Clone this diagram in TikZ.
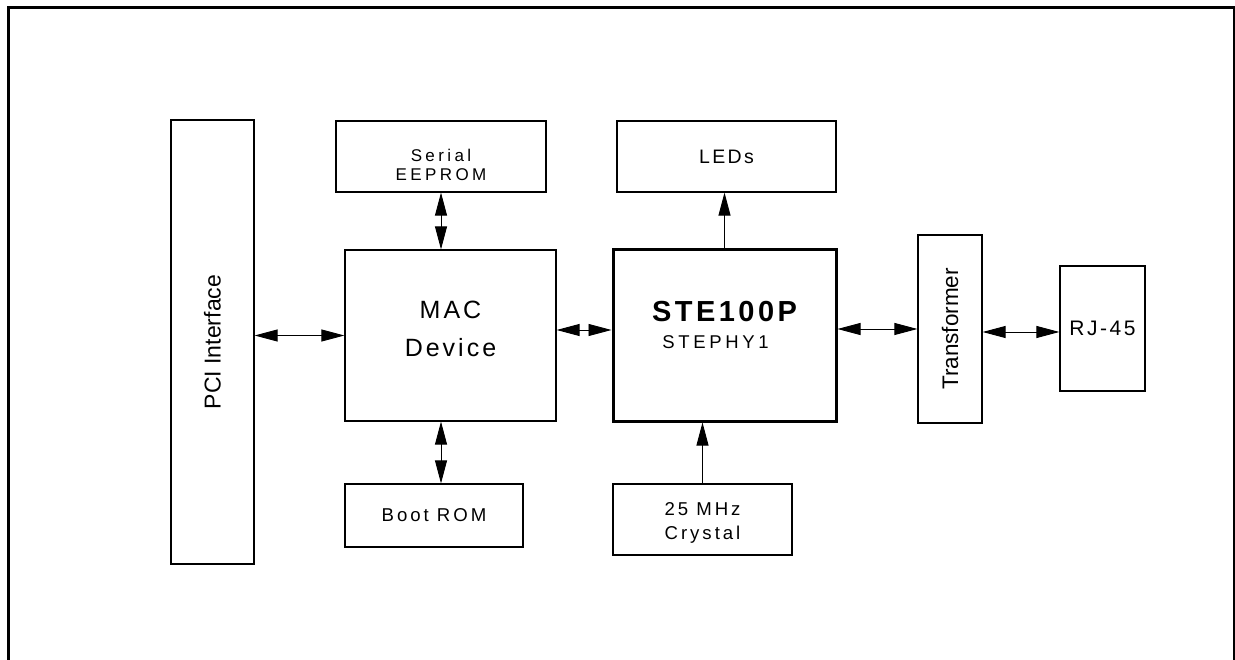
\documentclass[tikz,border=0pt]{standalone}
\usepackage{fontspec}
\usepackage{graphicx}
\setmainfont{Liberation Sans}
\newfontfamily\spaced{Liberation Sans}[LetterSpace=20]
\newfontfamily\spacedsm{Liberation Sans}[LetterSpace=16]
\newfontfamily\spacedmid{Liberation Sans}[LetterSpace=12]
\usetikzlibrary{arrows.meta}
\tikzset{
    box/.style={draw, line width=1.2pt, inner sep=0pt, align=center},
    chip/.style={draw, line width=3pt, inner sep=0pt, align=center},
    link/.style={line width=0.9pt},
    >={Triangle[length=23pt, width=12pt]}
}

\begin{document}
\begin{tikzpicture}[x=1pt, y=-1pt]
    \useasboundingbox (0,0) rectangle (1235,660);
    % frame
    \draw [line width=3pt] (8,660) -- (8,8) -- (1234,8) -- (1234,660);

    % blocks
    \node [box, minimum width=83pt, minimum height=444pt, font=\fontsize{23}{28}\selectfont] (pci) at (212.5,342) {\rotatebox{90}{PCI Interface}};
    \node [box, minimum width=210pt, minimum height=71pt,
           label={[align=center, yshift=-8pt, font=\fontsize{17}{19}\selectfont\spaced]center:Serial\\EEPROM}] (eeprom) at (441,156.5) {};
    \node [box, minimum width=211pt, minimum height=171pt,
           label={[align=center, yshift=7pt, font=\fontsize{25}{38}\selectfont\spacedmid]center:MAC\\Device}] (mac) at (450.5,335.5) {};
    \node [box, minimum width=178pt, minimum height=63pt, font=\fontsize{18.6}{22}\selectfont\spacedsm] (boot) at (434,515.5) {Boot ROM};
    \node [box, minimum width=219pt, minimum height=71pt, font=\fontsize{19.5}{22}\selectfont\spacedmid] (leds) at (726.5,156.5) {LEDs};
    \node [chip, minimum width=223pt, minimum height=171pt,
           label={[align=center, yshift=11pt, font=\fontsize{29}{27}\selectfont\spacedmid]center:\bfseries STE100P\\\hspace*{-18pt}{\fontsize{18.5}{27}\selectfont\spaced STEPHY1}}] (ste) at (724.5,335.5) {};
    \node [box, minimum width=179pt, minimum height=71pt,
           label={[align=center, yshift=-3pt, font=\fontsize{18.6}{24}\selectfont\spacedsm]center:25 MHz\\Crystal}] (xtal) at (702.5,519.5) {};
    \node [box, minimum width=64pt, minimum height=188pt, font=\fontsize{22.5}{27}\selectfont] (xfmr) at (950,329) {\rotatebox{90}{Transformer}};
    \node [box, minimum width=85pt, minimum height=125pt, font=\fontsize{21}{25}\selectfont\spacedmid] (rj) at (1102.5,328.5) {RJ-45};

    % links
    \draw [link, <->] (pci.east |- mac.west) -- (mac.west);
    \draw [link, <->] ([yshift=5.5pt]mac.east) -- ([yshift=5.5pt]ste.west);
    \draw [link, <->] (ste.east |- xfmr.west) -- (xfmr.west);
    \draw [link, <->] ([yshift=-3pt]xfmr.east) -- ([yshift=-3pt]xfmr.east -| rj.west);
    \draw [link, <->] (eeprom.south) -- (eeprom.south |- mac.north);
    \draw [link, <->] (mac.south -| eeprom) -- (boot.north -| eeprom);
    \draw [link, ->] (ste.north) -- (leds.south -| ste.north);
    \draw [link, ->] (xtal.north) -- (xtal.north |- ste.south);
\end{tikzpicture}
\end{document}
